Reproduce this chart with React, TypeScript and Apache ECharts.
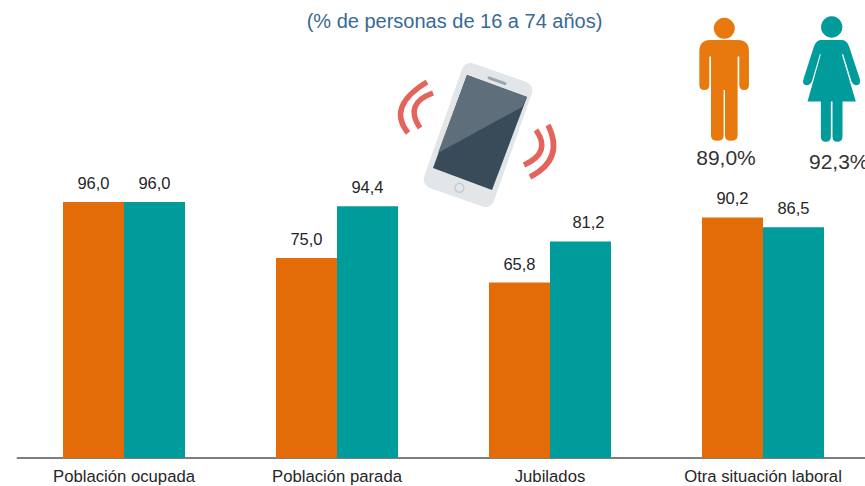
import React, { useEffect, useRef } from "react";
import * as echarts from "echarts";

const categories = ["Población ocupada", "Población parada", "Jubilados", "Otra situación laboral"];
const hombres = [96.0, 75.0, 65.8, 90.2];
const mujeres = [96.0, 94.4, 81.2, 86.5];
const subtitle = "(% de personas de 16 a 74 años)";
const totalHombres = "89,0%";
const totalMujeres = "92,3%";

const ORANGE = "#E36C09";
const TEAL = "#009B9B";
const FONT = '"Liberation Sans", Arial, sans-serif';

const manPath =
  "M75 105H160Q192 105 192 140V240Q192 255 178 255Q163 255 163 240V155H158V392Q158 408 138 408Q120 408 120 392V255H116V392Q116 408 97 408Q78 408 78 392V155H73V240Q73 255 58 255Q43 255 43 240V140Q43 105 75 105Z";
const womanPath =
  "M410 105H470Q485 105 492 122L526 225Q528 240 515 241Q505 241 500 230L475 148H471L513 290H473V395Q473 411 457 411Q443 411 443 395V290H438V395Q438 411 423 411Q408 411 408 395V290H368L408 148H405L381 230Q375 241 365 241Q352 240 355 225L388 122Q395 105 410 105Z";

echarts.graphic.registerShape("manIcon", echarts.graphic.extendPath(manPath, {}));
echarts.graphic.registerShape("womanIcon", echarts.graphic.extendPath(womanPath, {}));

const fmt = (p: any) => Number(p.value).toFixed(1).replace(".", ",");

const arc = (x1: number, y1: number, cx: number, cy: number, x2: number, y2: number) => ({
  type: "bezierCurve",
  shape: { x1, y1, cpx1: cx, cpy1: cy, x2, y2 },
  style: { stroke: "#E4635A", lineWidth: 5.5, fill: "none" },
  silent: true,
});

export default function App() {
  const ref = useRef<HTMLDivElement>(null);
  useEffect(() => {
    if (!ref.current) return;
    const chart = echarts.init(ref.current, undefined, { renderer: "svg" });
    const series = [hombres, mujeres].map((values, i) => ({
      type: "bar" as const,
      // La etiqueta de "Jubilados" (mujeres) está desplazada a la derecha en el original.
      data: values.map((value, j) =>
        i === 1 && j === 2 ? { value, label: { offset: [8, 0] } } : value
      ),
      barWidth: 61,
      barGap: "0%",
      itemStyle: { color: i === 0 ? ORANGE : TEAL },
      label: {
        show: true,
        position: "top" as const,
        distance: 10.5,
        formatter: fmt,
        fontFamily: FONT,
        fontSize: 16.5,
        color: "#262626",
      },
    }));
    chart.setOption({
      animation: false,
      grid: { left: 17.5, width: 852, top: 58, bottom: 28, containLabel: false, outerBoundsMode: "none" },
      xAxis: {
        type: "category",
        data: categories,
        axisTick: { show: false },
        axisLine: { lineStyle: { color: "#7F7F7F", width: 2 } },
        axisLabel: { fontFamily: FONT, fontSize: 16.7, lineHeight: 16, color: "#262626", margin: 10, interval: 0 },
      },
      yAxis: { type: "value", min: 0, max: 150, show: false, splitLine: { show: false } },
      series,
      graphic: [
        {
          type: "text",
          x: 454.5,
          y: 21,
          style: {
            text: subtitle,
            fontFamily: FONT,
            fontSize: 20,
            fill: "#376A94",
            align: "center",
            verticalAlign: "middle",
          },
        },
        // teléfono
        {
          type: "group",
          x: 478,
          y: 135,
          rotation: (-19.4 * Math.PI) / 180,
          children: [
            {
              type: "rect",
              shape: { x: -37, y: -66, width: 74, height: 132, r: 9 },
              style: { fill: "#E3E6E8" },
            },
            {
              type: "rect",
              shape: { x: -10, y: -59, width: 20, height: 3, r: 1.5 },
              style: { fill: "#9AA5AC" },
            },
            {
              type: "circle",
              shape: { cx: 0, cy: 56, r: 4.5 },
              style: { fill: "#E3E6E8", stroke: "#C5CBCF", lineWidth: 1.5 },
            },
          ],
        },
        { type: "polygon", shape: { points: [[467, 75], [527, 97], [492, 190], [433, 168]] }, style: { fill: "#394B58" } },
        { type: "polygon", shape: { points: [[467, 75], [527, 97], [522, 107], [438, 153]] }, style: { fill: "#5E6E7A" } },
        arc(427, 82, 386.5, 106.5, 408, 133),
        arc(433, 93, 403.5, 103.5, 420, 128),
        arc(548, 125, 565, 159, 530, 177),
        arc(536, 130, 552, 152.5, 524, 165),
        // iconos
        { type: "circle", shape: { cx: 724.3, cy: 28.3, r: 10.5 }, style: { fill: "#E8790F" } },
        { type: "manIcon", x: 685, y: 5, scaleX: 1 / 3, scaleY: 1 / 3, style: { fill: "#E8790F" } },
        { type: "circle", shape: { cx: 831.7, cy: 27, r: 10.7 }, style: { fill: TEAL } },
        { type: "womanIcon", x: 685, y: 5, scaleX: 1 / 3, scaleY: 1 / 3, style: { fill: TEAL } },
        {
          type: "text",
          x: 726,
          y: 157,
          style: { text: totalHombres, fontFamily: FONT, fontSize: 21, fill: "#333333", align: "center", verticalAlign: "middle" },
        },
        {
          type: "text",
          x: 809,
          y: 161,
          style: { text: totalMujeres, fontFamily: FONT, fontSize: 21, fill: "#333333", align: "left", verticalAlign: "middle" },
        },
      ],
    });
    return () => chart.dispose();
  }, []);
  return (
    <div
      ref={ref}
      style={{ position: "fixed", left: 0, top: 0, width: 865, height: 486, background: "#fff", overflow: "hidden" }}
    />
  );
}
